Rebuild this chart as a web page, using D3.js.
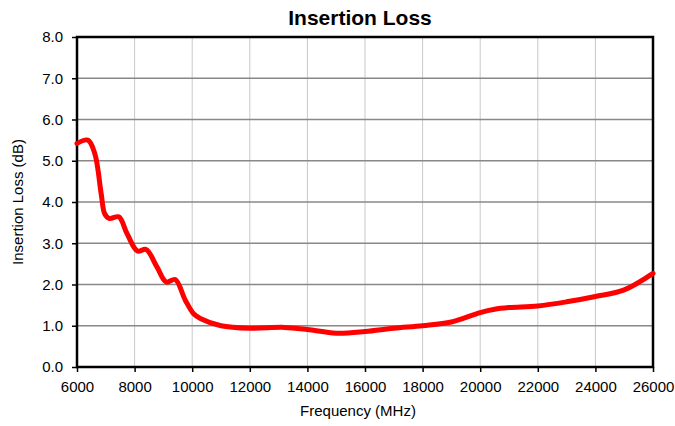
<!DOCTYPE html>
<html>
<head>
<meta charset="utf-8">
<script src="https://cdn.jsdelivr.net/npm/d3@7"></script>
<style>
  body { margin: 0; background: #fff; }
  svg { display: block; font-family: "Liberation Sans", Arial, sans-serif; }
</style>
</head>
<body>
<svg id="chart" width="675" height="426"></svg>
<script>
// values
let frequencies = [6000, 6380, 6620, 6840, 6960, 7120, 7450, 7740, 8100, 8400, 8780, 9100, 9410, 9760,
    10050, 10300, 11000, 12000, 13200, 14000, 15000, 16000, 17000, 18000, 19000, 20000, 20500,
    21000, 22000, 23000, 24000, 25000, 26000];
let lossValues = [5.42, 5.50, 5.17, 4.20, 3.72, 3.60, 3.64, 3.23, 2.81, 2.85, 2.42, 2.06, 2.12, 1.62,
    1.29, 1.17, 1.00, 0.94, 0.96, 0.91, 0.82, 0.86, 0.94, 1.00, 1.09, 1.32, 1.40,
    1.44, 1.48, 1.58, 1.71, 1.87, 2.27];
let xTicks = [6000, 8000, 10000, 12000, 14000, 16000, 18000, 20000, 22000, 24000, 26000];
let yTicks = [0, 1, 2, 3, 4, 5, 6, 7, 8];

let data = frequencies.map(function(f, i) { return { f: f, v: lossValues[i] }; });

let svg = d3.select("#chart");
let margin = { top: 37, right: 22, bottom: 59, left: 77 };
let width = 675 - margin.left - margin.right;
let height = 426 - margin.top - margin.bottom;

let x = d3.scaleLinear().domain([6000, 26000]).range([0, width]);
let y = d3.scaleLinear().domain([0, 8]).range([height, 0]);

let g = svg.append("g")
    .attr("transform", "translate(" + margin.left + "," + margin.top + ")");

// vertical grid
g.append("g")
    .selectAll("line")
    .data(xTicks)
    .enter().append("line")
    .attr("x1", d => x(d)).attr("x2", d => x(d))
    .attr("y1", 0).attr("y2", height)
    .attr("stroke", "#c8c8c8")
    .attr("stroke-width", 1);

// horizontal grid
g.append("g")
    .selectAll("line")
    .data(yTicks)
    .enter().append("line")
    .attr("x1", 0).attr("x2", width)
    .attr("y1", d => y(d)).attr("y2", d => y(d))
    .attr("stroke", "#888")
    .attr("stroke-width", 1.5);

// axes
let xAxis = g.append("g")
    .attr("transform", "translate(0," + height + ")")
    .call(d3.axisBottom(x).tickValues(xTicks).tickSize(5).tickPadding(9).tickFormat(d3.format("d")));
let yAxis = g.append("g")
    .call(d3.axisLeft(y).tickValues(yTicks).tickSize(5).tickPadding(9).tickFormat(d3.format(".1f")));

[xAxis, yAxis].forEach(function(a) {
    a.select(".domain").remove();
    a.selectAll(".tick line").attr("stroke", "#000").attr("stroke-width", 1.5);
    a.selectAll(".tick text")
        .attr("fill", "#000")
        .style("font-size", "15px")
        .style("font-family", "'Liberation Sans', Arial, sans-serif");
});

// frame
g.append("rect")
    .attr("x", 0).attr("y", 0)
    .attr("width", width).attr("height", height)
    .attr("fill", "none")
    .attr("stroke", "#000")
    .attr("stroke-width", 2.5);

// the curve
let line = d3.line()
    .x(d => x(d.f))
    .y(d => y(d.v))
    .curve(d3.curveCatmullRom.alpha(0.5));

g.append("path")
    .datum(data)
    .attr("fill", "none")
    .attr("stroke", "#ff0000")
    .attr("stroke-width", 5)
    .attr("stroke-linejoin", "round")
    .attr("stroke-linecap", "round")
    .attr("d", line);

// titles
svg.append("text")
    .attr("x", 360)
    .attr("y", 25)
    .attr("text-anchor", "middle")
    .style("font-size", "21px")
    .style("font-weight", "bold")
    .text("Insertion Loss");

svg.append("text")
    .attr("x", 358)
    .attr("y", 416)
    .attr("text-anchor", "middle")
    .style("font-size", "15px")
    .text("Frequency (MHz)");

svg.append("text")
    .attr("transform", "translate(23," + (margin.top + height / 2) + ") rotate(-90)")
    .attr("text-anchor", "middle")
    .style("font-size", "15px")
    .text("Insertion Loss (dB)");
</script>
</body>
</html>
